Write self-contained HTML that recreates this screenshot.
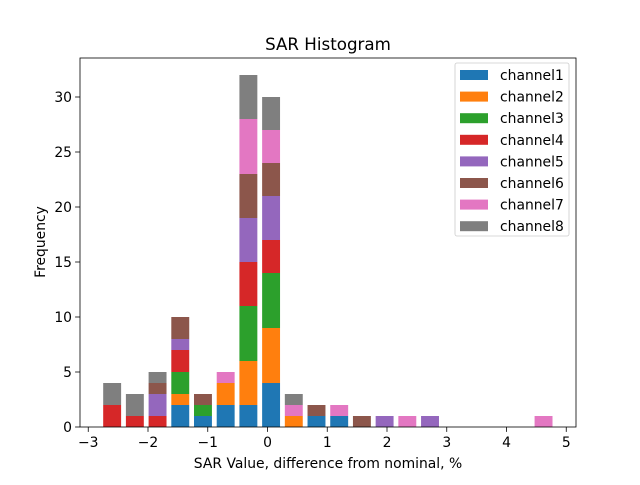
<!DOCTYPE html>
<html><head><meta charset="utf-8"><style>body{margin:0;background:#fff}svg{font-family:"DejaVu Sans","Liberation Sans",sans-serif}</style></head>
<body>
<svg id="chart" width="640" height="480" xmlns="http://www.w3.org/2000/svg">
<rect width="640" height="480" fill="#fff"/>
<text x="328" y="50" font-size="16.7" text-anchor="middle">SAR Histogram</text>
<g id="bars"></g>
<g id="axes"></g>
<text x="328" y="468" font-size="13.9" text-anchor="middle">SAR Value, difference from nominal, %</text>
<text transform="translate(45,242) rotate(-90)" font-size="13.9" text-anchor="middle">Frequency</text>
<g id="legend"></g>
</svg>
<script>
const seriesNames=["channel1","channel2","channel3","channel4","channel5","channel6","channel7","channel8"];
const binCenters=[-2.6,-2.22,-1.84,-1.46,-1.08,-0.7,-0.32,0.06,0.44,0.82,1.2,1.58,1.96,2.34,2.72,3.1,3.48,3.86,4.24,4.62];
const ch1=[0,0,0,2,1,2,2,4,0,1,1,0,0,0,0,0,0,0,0,0];
const ch2=[0,0,0,1,0,2,4,5,1,0,0,0,0,0,0,0,0,0,0,0];
const ch3=[0,0,0,2,1,0,5,5,0,0,0,0,0,0,0,0,0,0,0,0];
const ch4=[2,1,1,2,0,0,4,3,0,0,0,0,0,0,0,0,0,0,0,0];
const ch5=[0,0,2,1,0,0,4,4,0,0,0,0,1,0,1,0,0,0,0,0];
const ch6=[0,0,1,2,1,0,4,3,0,1,0,1,0,0,0,0,0,0,0,0];
const ch7=[0,0,0,0,0,1,5,3,1,0,1,0,0,1,0,0,0,0,0,1];
const ch8=[2,2,1,0,0,0,4,3,1,0,0,0,0,0,0,0,0,0,0,0];
const xTicks=[-3,-2,-1,0,1,2,3,4,5];
const yTicks=[0,5,10,15,20,25,30];
const colors=["#1f77b4","#ff7f0e","#2ca02c","#d62728","#9467bd","#8c564b","#e377c2","#7f7f7f"];
const series=[ch1,ch2,ch3,ch4,ch5,ch6,ch7,ch8];
const NS="http://www.w3.org/2000/svg";
const L=80,R=576,T=58,B=427;
const xs=v=>267.5+v*59.75;
const ys=v=>427-v*11;
function mk(tag,attrs,parent){const e=document.createElementNS(NS,tag);for(const k in attrs)e.setAttribute(k,attrs[k]);parent.appendChild(e);return e;}
const gb=document.getElementById('bars');
const bw=0.30*59.75;
binCenters.forEach((c,i)=>{let base=0;series.forEach((s,k)=>{const v=s[i];if(v>0){const r=mk('rect',{x:xs(c)-bw/2,y:ys(base+v),width:bw,height:ys(base)-ys(base+v),fill:colors[k]},gb);

}base+=v;});});
const ga=document.getElementById('axes');
const frame=mk('rect',{x:L,y:T,width:R-L,height:B-T,fill:'none',stroke:'#000','stroke-width':0.8},ga);


xTicks.forEach(t=>{const x=xs(t);mk('line',{x1:x,x2:x,y1:B,y2:B+4.9,stroke:'#000','stroke-width':0.8},ga);
const tx=mk('text',{x:x,y:B+20,'font-size':13.9,'text-anchor':'middle'},ga);tx.textContent=t<0?'\u2212'+(-t):t;

});
yTicks.forEach(t=>{const y=ys(t);mk('line',{x1:L-4.9,x2:L,y1:y,y2:y,stroke:'#000','stroke-width':0.8},ga);
const tx=mk('text',{x:L-8,y:y+5,'font-size':13.9,'text-anchor':'end'},ga);tx.textContent=t;

});
const gl=document.getElementById('legend');


mk('rect',{x:455,y:63,width:114,height:173,rx:2,fill:'#fff','fill-opacity':0.8,stroke:'#ccc','stroke-width':0.8},gl);
seriesNames.forEach((n,k)=>{const y=70+k*21.6;const g=mk('g',{},gl);


mk('rect',{x:460,y:y,width:28,height:10,fill:colors[k]},g);
const t=mk('text',{x:500,y:y+10,'font-size':13.9},g);t.textContent=n;});
</script>
</body></html>
